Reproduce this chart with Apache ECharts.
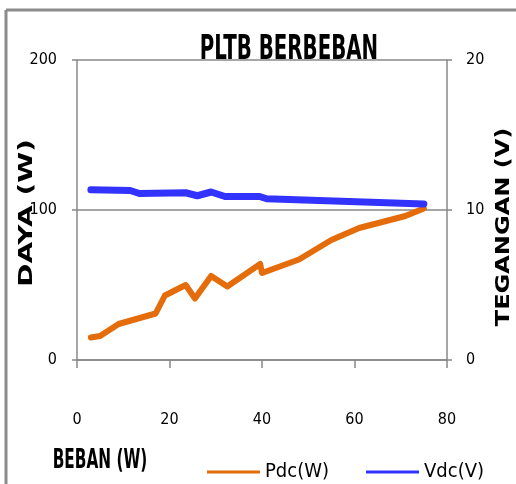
<!DOCTYPE html>
<html><head><meta charset="utf-8">
<script src="https://cdn.jsdelivr.net/npm/echarts@6/dist/echarts.min.js"></script>
<style>html,body{margin:0;padding:0;background:#fff}#c{width:516px;height:484px}</style>
</head><body><div id="c"></div>
<script>
const titleText = 'PLTB BERBEBAN';
const xAxisTitle = 'BEBAN (W)';
const yLeftTitle = 'DAYA (W)';
const yRightTitle = 'TEGANGAN (V)';
const xTicks = [0, 20, 40, 60, 80];
const loadP = [3, 5, 9, 17, 19, 23.5, 25.5, 29, 32.5, 39.6, 40, 48, 55, 61, 71, 75];
const powerP = [15, 16, 24, 31, 43, 50, 41, 56, 49, 64, 58, 67, 80, 88, 96, 101];
const loadV = [3, 11.5, 13.5, 23.5, 26, 29, 32, 39.5, 41, 75];
const voltV = [11.35, 11.3, 11.1, 11.15, 10.95, 11.2, 10.9, 10.9, 10.75, 10.4];
const seriesNames = ['Pdc(W)', 'Vdc(V)'];
const colors = ['#E46C0A', '#3333FF'];
const NF = '"Liberation Sans Narrow", "DejaVu Sans Condensed", sans-serif';
const WF = '"DejaVu Sans", sans-serif';

const chart = echarts.init(document.getElementById('c'));
chart.setOption({
  animation: false,
  grid: {left: 77, right: 69, top: 60, bottom: 124, outerBoundsMode: 'none', containLabel: false},
  graphic: [
    {type: 'line', shape: {x1: 6, y1: 10, x2: 6, y2: 484}, style: {stroke: '#8c8c8c', lineWidth: 3}},
    {type: 'line', shape: {x1: 6, y1: 10, x2: 516, y2: 10}, style: {stroke: '#8c8c8c', lineWidth: 3}},
    {type: 'text', x: 289, y: 50, scaleY: 1.5, z: 10,
     style: {text: titleText, font: 'bold 22px ' + NF, fill: '#000', textAlign: 'center', textVerticalAlign: 'middle'}},
    {type: 'text', x: 100, y: 461, scaleY: 1.55,
     style: {text: xAxisTitle, font: 'bold 17px ' + NF, fill: '#000', textAlign: 'center', textVerticalAlign: 'middle'}},
    {type: 'text', x: 27, y: 213, rotation: Math.PI / 2, scaleX: 1.4,
     style: {text: yLeftTitle, font: 'bold 20px ' + WF, fill: '#000', textAlign: 'center', textVerticalAlign: 'middle'}},
    {type: 'text', x: 504, y: 227, rotation: Math.PI / 2, scaleX: 1.2,
     style: {text: yRightTitle, font: 'bold 20px ' + WF, fill: '#000', textAlign: 'center', textVerticalAlign: 'middle'}}
  ],
  legend: {
    left: 202, top: 457, itemWidth: 53, itemHeight: 3, itemGap: 37,
    icon: 'rect',
    textStyle: {fontFamily: NF, fontSize: 20, color: '#000'},
    data: seriesNames
  },
  xAxis: {
    type: 'value', min: 0, max: 80, interval: 20,
    axisLine: {show: true, lineStyle: {color: '#888', width: 1.5}},
    axisTick: {show: true, length: 8, lineStyle: {color: '#888', width: 1.5}},
    splitLine: {show: false},
    axisLabel: {margin: 52, fontFamily: NF, fontSize: 16, color: '#000',
      formatter: v => xTicks.includes(v) ? String(v) : ''}
  },
  yAxis: [
    {type: 'value', min: 0, max: 200, interval: 100,
     axisLine: {show: true, lineStyle: {color: '#888', width: 1.5}},
     axisTick: {show: true, length: 5, lineStyle: {color: '#888', width: 1.5}},
     splitLine: {show: true, lineStyle: {color: '#888', width: 1.5}},
     axisLabel: {margin: 20, fontFamily: NF, fontSize: 16, color: '#000'}},
    {type: 'value', min: 0, max: 20, interval: 10, position: 'right',
     axisLine: {show: true, lineStyle: {color: '#888', width: 1.5}},
     axisTick: {show: true, length: 5, lineStyle: {color: '#888', width: 1.5}},
     splitLine: {show: false},
     axisLabel: {margin: 19, fontFamily: NF, fontSize: 16, color: '#000'}}
  ],
  series: [
    {name: seriesNames[0], type: 'line', yAxisIndex: 0, showSymbol: false, symbol: 'none',
     color: colors[0], lineStyle: {width: 6, cap: 'round', join: 'round'},
     data: loadP.map((x, i) => [x, powerP[i]])},
    {name: seriesNames[1], type: 'line', yAxisIndex: 1, showSymbol: false, symbol: 'none',
     color: colors[1], lineStyle: {width: 7, cap: 'round', join: 'round'},
     data: loadV.map((x, i) => [x, voltV[i]])}
  ]
});
</script></body></html>
